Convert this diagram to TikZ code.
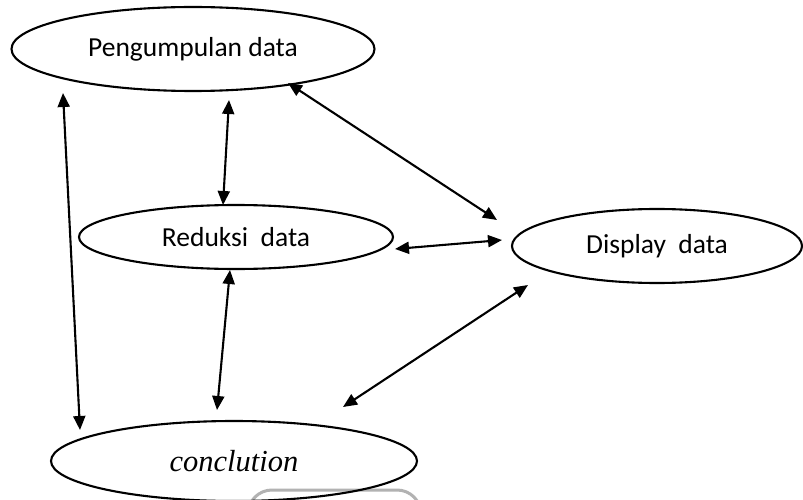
\documentclass[tikz,border=0pt]{standalone}
\usepackage{fontspec}
\setmainfont{Carlito}
\newfontfamily\serifit{Liberation Serif}
\usetikzlibrary{arrows.meta,shapes.geometric}
\begin{document}
\begin{tikzpicture}[x=1pt,y=-1pt,
  oval/.style={draw, ellipse, line width=2.1pt, inner sep=0pt},
  lbl/.style={font=\fontsize{27.5}{30}\selectfont},
  link/.style={line width=2.1pt, {Triangle[length=14pt,width=12pt]}-{Triangle[length=14pt,width=12pt]}}]
\useasboundingbox (0,0) rectangle (803,500);
\fill[white] (0,0) rectangle (803,500);
% watermark
\draw[black!30, line width=3pt, rounded corners=24pt] (248,530) -- (248,490) -- (421,490) -- (421,530);
% ellipses
\node[oval, minimum width=363pt, minimum height=84pt, lbl] (peng) at (193,49) {Pengumpulan data};
\node[oval, minimum width=314pt, minimum height=64pt, lbl] (red) at (236,237) {Reduksi\ \ data};
\node[oval, minimum width=290pt, minimum height=74pt, lbl] (disp) at (657,246) {Display\ \ data};
\node[oval, minimum width=366pt, minimum height=80pt, font=\serifit\itshape\fontsize{30.5}{34}\selectfont] (conc) at (234,461) {conclution};
% connector ends
\coordinate (a1) at (63,93);   \coordinate (a2) at (80,430);
\coordinate (b1) at (229,100); \coordinate (b2) at (223,205);
\coordinate (c1) at (288,83);  \coordinate (c2) at (497,220);
\coordinate (d1) at (395,249); \coordinate (d2) at (502,240);
\coordinate (e1) at (230,270); \coordinate (e2) at (217,410);
\coordinate (f1) at (528,285); \coordinate (f2) at (343,407);
% connectors
\draw[link] (a1) -- (a2);
\draw[link] (b1) -- (b2);
\draw[link] (c1) -- (c2);
\draw[link] (d1) -- (d2);
\draw[link] (e1) -- (e2);
\draw[link] (f1) -- (f2);
\end{tikzpicture}
\end{document}
